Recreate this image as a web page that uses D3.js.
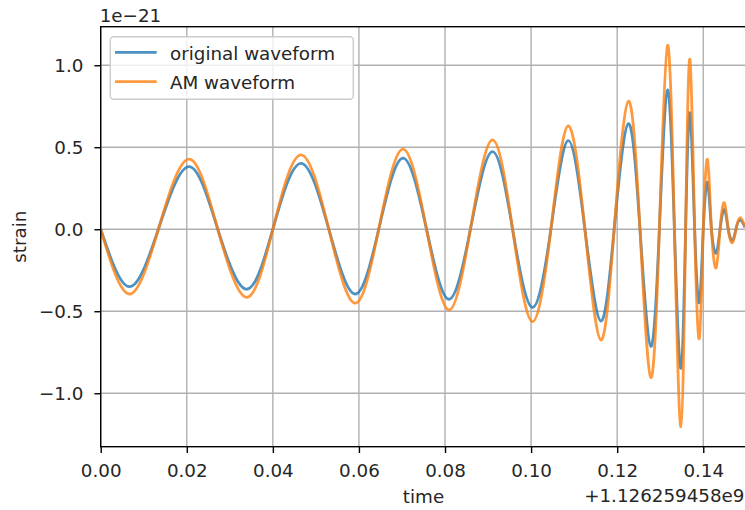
<!DOCTYPE html>
<html lang="en">
  <head>
    <meta charset="utf-8">
    <title>strain vs time</title>
    <script src="https://d3js.org/d3.v7.min.js"></script>
    <style>
    body { margin: 0; background: #fff; }
    text { font-family: "DejaVu Sans", sans-serif; fill: #262626; }
    </style>
  </head>
  <body>
    <div id="chart"></div>
    <script type="text/javascript">
      // times (s, offset from 1.126259458e9), at extrema and zero crossings
      var times = [0, 0.00665, 0.0134, 0.0205, 0.0272, 0.0339, 0.0400, 0.0465, 0.0530, 0.0591,
                   0.0646, 0.0702, 0.0757, 0.0809, 0.0859, 0.0910, 0.0957, 0.1003, 0.1046, 0.1086,
                   0.1125, 0.1162, 0.1193, 0.1226, 0.1253, 0.1278, 0.1298, 0.1317, 0.1333, 0.1348,
                   0.1359, 0.1369, 0.1380, 0.1391, 0.1400, 0.1410, 0.1419, 0.1430, 0.1439, 0.1449,
                   0.1458, 0.1468, 0.1476, 0.1485, 0.1497];
      // strain in units of 1e-21
      var original = [0, -0.35, 0, 0.382, 0, -0.366, 0, 0.402, 0, -0.395,
                      0, 0.433, 0, -0.427, 0, 0.473, 0, -0.476, 0, 0.540,
                      0, -0.560, 0, 0.644, 0, -0.714, 0, 0.849, 0, -0.848,
                      0, 0.709, 0, -0.446, 0, 0.285, 0, -0.146, 0, 0.12,
                      0, -0.068, 0, 0.055, 0.012];
      var am = [0, -0.395, 0, 0.427, 0, -0.415, 0, 0.453, 0, -0.451,
                0, 0.488, 0, -0.492, 0, 0.545, 0, -0.563, 0, 0.630,
                0, -0.675, 0, 0.781, 0, -0.904, 0, 1.121, 0, -1.204,
                0, 1.035, 0, -0.665, 0, 0.425, 0, -0.235, 0, 0.162,
                0, -0.082, 0, 0.07, 0.016];
      var xTicks = [0, 0.02, 0.04, 0.06, 0.08, 0.10, 0.12, 0.14];
      var yTicks = [-1.0, -0.5, 0, 0.5, 1.0];
      var seriesNames = ["original waveform", "AM waveform"];
      var colors = ["#1f77b4", "#ff7f0e"];

      var W = 745, H = 510;
      var pL = 100.7, pT = 26.7, pR = 746.3, pB = 446.7;
      var fs = 18.3;

      var svg = d3.select("#chart").append("svg")
          .attr("width", W).attr("height", H);

      var x = d3.scaleLinear().domain([0, 0.15]).range([pL, pR]);
      var y = d3.scaleLinear().domain([-1.326, 1.235]).range([pB, pT]);

      svg.append("clipPath").attr("id", "clip")
        .append("rect").attr("x", pL).attr("y", pT)
        .attr("width", pR - pL).attr("height", pB - pT);

      // grid
      var grid = svg.append("g").attr("stroke", "#b0b0b0").attr("stroke-width", 1.4);
      grid.selectAll(".gx").data(xTicks).enter().append("line")
        .attr("x1", d => x(d)).attr("x2", d => x(d))
        .attr("y1", pT).attr("y2", pB);
      grid.selectAll(".gy").data(yTicks).enter().append("line")
        .attr("x1", pL).attr("x2", pR)
        .attr("y1", d => y(d)).attr("y2", d => y(d));

      // lines
      var line = function (vals) {
        return d3.line()
          .x((d, i) => x(times[i]))
          .y(d => y(d))
          .curve(d3.curveNatural)(vals);
      };
      var plot = svg.append("g").attr("clip-path", "url(#clip)");
      [original, am].forEach(function (vals, k) {
        plot.append("path")
          .attr("d", line(vals))
          .attr("fill", "none")
          .attr("stroke", colors[k])
          .attr("stroke-opacity", 0.8)
          .attr("stroke-width", 2.8)
          .attr("stroke-linejoin", "round");
      });

      // axes
      var xAxis = d3.axisBottom(x).tickValues(xTicks).tickFormat(d3.format(".2f"))
          .tickSize(6.3).tickPadding(11);
      var yAxis = d3.axisLeft(y).tickValues(yTicks).tickFormat(d3.format(".1f"))
          .tickSize(6.3).tickPadding(11);
      var gx = svg.append("g").attr("transform", "translate(0," + pB + ")").call(xAxis);
      var gy = svg.append("g").attr("transform", "translate(" + pL + ",0)").call(yAxis);
      [gx, gy].forEach(function (g) {
        g.select(".domain").remove();
        g.selectAll(".tick line").attr("stroke", "#000").attr("stroke-width", 1.4);
        g.selectAll(".tick text").style("font-size", fs + "px")
          .style("font-family", "DejaVu Sans").attr("fill", "#262626");
      });

      // spines
      svg.append("rect")
        .attr("x", pL).attr("y", pT)
        .attr("width", pR - pL).attr("height", pB - pT)
        .attr("fill", "none").attr("stroke", "#000").attr("stroke-width", 1.4);

      // labels
      svg.append("text").attr("x", (pL + pR) / 2).attr("y", 503.3)
        .attr("text-anchor", "middle").style("font-size", fs + "px").text("time");
      svg.append("text").attr("x", 744.5).attr("y", 502.3)
        .attr("text-anchor", "end").style("font-size", fs + "px").text("+1.126259458e9");
      svg.append("text")
        .attr("transform", "translate(26," + (pT + pB) / 2 + ") rotate(-90)")
        .attr("text-anchor", "middle").style("font-size", fs + "px").text("strain");
      svg.append("text").attr("x", pL - 1).attr("y", 21.7)
        .style("font-size", fs + "px").text("1e\u221221");

      // legend
      var lg = svg.append("g");
      lg.append("rect").attr("x", 110.3).attr("y", 36.7)
        .attr("width", 243).attr("height", 62.6).attr("rx", 3.5)
        .attr("fill", "#fff").attr("fill-opacity", 0.8)
        .attr("stroke", "#cccccc").attr("stroke-width", 1.4);
      seriesNames.forEach(function (name, k) {
        var ly = 52.3 + k * 29.4;
        lg.append("line").attr("x1", 115).attr("x2", 156.7)
          .attr("y1", ly).attr("y2", ly)
          .attr("stroke", colors[k]).attr("stroke-opacity", 0.8).attr("stroke-width", 2.8);
        lg.append("text").attr("x", 170).attr("y", ly + 7.6)
          .style("font-size", fs + "px").text(name);
      });
    </script>
  </body>
</html>
